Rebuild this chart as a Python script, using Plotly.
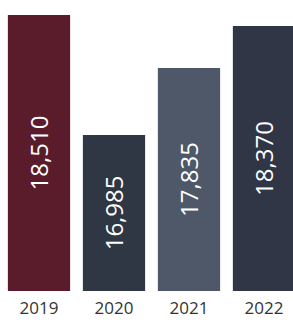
import plotly.graph_objects as go

years = ["2019", "2020", "2021", "2022"]
values = [18510, 16985, 17835, 18370]
colors = ["#5a1c2a", "#2f3644", "#4e5868", "#303646"]
axis_floor = 15000
axis_top = 18700

fig = go.Figure(go.Bar(
    x=years,
    y=[v - axis_floor for v in values],
    base=axis_floor,
    marker=dict(color=colors, line=dict(width=0)),
    text=[f"{v:,}" for v in values],
    textposition="inside",
    insidetextanchor="middle",
    textangle=-90,
    textfont=dict(family="Open Sans, sans-serif", size=24, color="white"),
    constraintext="none",
))

fig.update_layout(
    width=293, height=324,
    margin=dict(l=0, r=0, t=0, b=33, autoexpand=False),
    paper_bgcolor="white", plot_bgcolor="white",
    bargap=0.17,
    showlegend=False,
    xaxis=dict(
        type="category",
        range=[-0.52, 3.387],
        showgrid=False, showline=False, zeroline=False,
        ticks="",
        tickfont=dict(family="Open Sans", size=17, color="#333333"),
        ticklabelstandoff=5,
    ),
    yaxis=dict(
        range=[axis_floor, axis_top],
        visible=False,
    ),
)

fig.write_html(
    "out.html",
    config={"displayModeBar": False, "staticPlot": True},
    post_script="document.body.style.margin='0';document.body.style.overflow='hidden';",
)
